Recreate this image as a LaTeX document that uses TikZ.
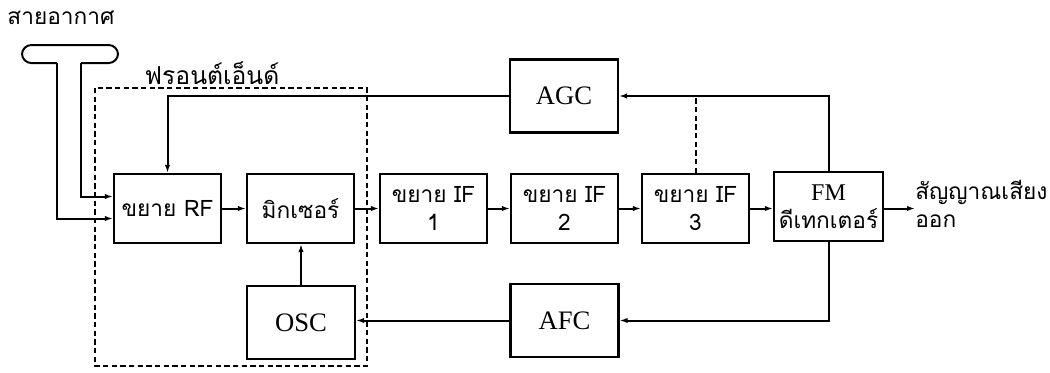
\documentclass[tikz,border=0pt]{standalone}
\usepackage{fontspec}
\newfontfamily\thaifont[Script=Thai]{Loma}
\newfontfamily\latfont{Liberation Serif}
\usetikzlibrary{arrows.meta}
\begin{document}
\begin{tikzpicture}[x=0.75pt,y=-0.75pt,
  box/.style={draw, line width=1.6pt, inner sep=0pt, align=center, minimum width=80.25pt, minimum height=51.75pt, font=\thaifont\fontsize{17pt}{21pt}\selectfont},
  lbox/.style={box, minimum width=81pt, minimum height=54.75pt, font=\latfont\fontsize{20pt}{22pt}\selectfont},
  conn/.style={line width=1.5pt, -{Latex[length=6pt,width=4pt]}},
  plain/.style={line width=1.5pt},
  lbl/.style={font=\thaifont\fontsize{17pt}{21pt}\selectfont, inner sep=0pt}]
\useasboundingbox (0,0) rectangle (1050,372);
% title labels
\node[lbl] (antlbl) at (61,18) {สายอากาศ};
\node[lbl, font=\thaifont\fontsize{18.5pt}{21pt}\selectfont] (felbl) at (212,73) {ฟรอนต์เอ็นด์};
% front-end dashed frame
\draw[line width=1.5pt, dash pattern=on 4pt off 2.5pt] (95,88) rectangle (367,366);
% boxes
\node[box] (RF) at (167.5,208.5) {ขยาย RF};
\node[box] (MIX) at (300.5,208.5) {มิกเซอร์};
\node[box] (IF1) at (433.5,208.5) {ขยาย IF\\1};
\node[box] (IF2) at (564.5,208.5) {ขยาย IF\\2};
\node[box] (IF3) at (695.5,208.5) {ขยาย IF\\3};
\node[box, minimum width=81.75pt] (FM) at (828.5,206.5) {{\latfont\fontsize{18pt}{21pt}\selectfont FM}\\ดีเทกเตอร์};
\node[lbox] (OSC) at (301,322.5) {OSC};
\node[lbox] (AGC) at (564,96) {AGC};
\node[lbox] (AFC) at (564.5,320.5) {AFC};
\node[lbl, anchor=west, align=left] (OUT) at (915,204) {สัญญาณเสียง\\ออก};
% antenna
\coordinate (antL) at (57,63);
\coordinate (antR) at (81,63);
\draw[plain, rounded corners=7pt] (antL) -- (22,63) -- (22,45) -- (118,45) -- (118,63) -- (antR);
\draw[conn] (antR) |- ([yshift=9pt]RF.west);
\draw[conn] (antL) |- ([yshift=-7.5pt]RF.west);
% signal chain
\draw[conn] (RF) -- (MIX);
\draw[conn] (MIX) -- (IF1);
\draw[conn] (IF1) -- (IF2);
\draw[conn] (IF2) -- (IF3);
\draw[conn] (IF3.east) -- (IF3.east -| FM.west);
\draw[conn] (FM.east |- IF3.east) -- (OUT.west |- IF3.east);
% AGC loop
\draw[conn] (FM.north) |- (AGC.east);
\draw[plain, dash pattern=on 4pt off 2.5pt] (IF3.north) -- (IF3.north |- AGC.east);
\draw[conn] (AGC.west) -| (RF.north);
% AFC loop
\draw[conn] (FM.south) |- (AFC.east);
\draw[conn] (AFC.west) -- (AFC.west -| OSC.east);
\draw[conn] (OSC.north) -- (OSC.north |- MIX.south);
\end{tikzpicture}
\end{document}
